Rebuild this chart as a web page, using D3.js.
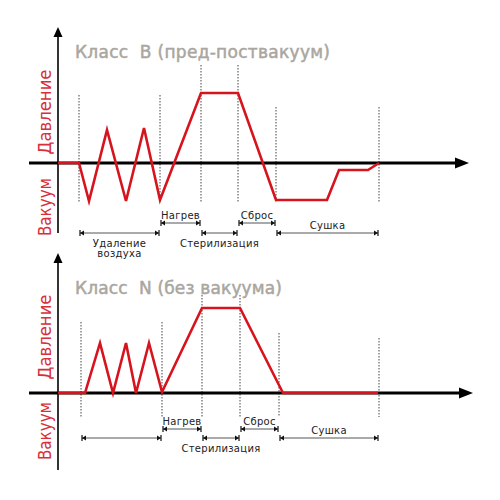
<!DOCTYPE html>
<html>
<head>
<meta charset="utf-8">
<script src="https://cdn.jsdelivr.net/npm/d3@7"></script>
<style>
  body { margin: 0; background: #fff; }
  svg { display: block; }
</style>
</head>
<body>
<div id="chart"></div>
<script>
// --- класс B
var titleB = "Класс  B (пред-поствакуум)";
var timeB = [0, 21, 31, 49, 68, 86, 102, 143, 180, 218, 269, 281, 310, 321];
var pressureB = [0, 0, -38, 33, -38, 35, -37, 70, 70, -37, -37, -7, -7, 0];
var stepsB = [21, 102, 143, 180, 218, 321];
var stepTopB = [68, 68, 98, 98, 56, 56];
var phaseLabelsB = ["Удаление|воздуха", "Нагрев", "Стерилизация", "Сброс", "Сушка"];

// --- класс N
var titleN = "Класс  N (без вакуума)";
var timeN = [0, 27, 42, 55, 68, 78, 91, 104, 144, 182, 225, 320];
var pressureN = [0, 0, 50, 0, 50, 0, 50, 1, 85, 85, 0, 0];
var stepsN = [23, 104, 144, 182, 221, 321];
var stepTopN = [71, 71, 98, 98, 60, 55];
var phaseLabelsN = ["", "Нагрев", "Стерилизация", "Сброс", "Сушка"];

var axisLabels = ["Давление", "Вакуум"];

var width = 500, height = 500;
var red = "#d7141e";

var svg = d3.select('#chart').append('svg')
  .attr('width', width)
  .attr('height', height);

var x = d3.scaleLinear().domain([0, 410]).range([58, 468]);

function drawPanel(p) {
  var y = d3.scaleLinear().domain([-50, 100]).range([p.axisY + 50, p.axisY - 100]);
  var g = svg.append('g');

  // dotted step lines
  g.selectAll('line.step')
    .data(p.steps).enter()
    .append('line')
    .attr('class', 'step')
    .attr('x1', function(d) { return x(d); })
    .attr('x2', function(d) { return x(d); })
    .attr('y1', function(d, i) { return y(p.stepTop[i]); })
    .attr('y2', y(p.stepBottom))
    .attr('stroke', '#444')
    .attr('stroke-width', 1)
    .attr('stroke-dasharray', '1.5,1.5');

  // x axis
  g.append('line')
    .attr('x1', 29).attr('x2', p.xEnd - 12)
    .attr('y1', p.axisY).attr('y2', p.axisY)
    .attr('stroke', '#000').attr('stroke-width', 3);
  g.append('path')
    .attr('d', 'M' + p.xEnd + ',' + p.axisY + ' L' + (p.xEnd - 14) + ',' + (p.axisY - 5.5) +
               ' L' + (p.xEnd - 14) + ',' + (p.axisY + 5.5) + 'Z')
    .attr('fill', '#000');

  // y axis
  g.append('line')
    .attr('x1', 58).attr('x2', 58)
    .attr('y1', p.yTop + 8).attr('y2', p.yBottom)
    .attr('stroke', '#000').attr('stroke-width', 1.6);
  g.append('path')
    .attr('d', 'M58,' + p.yTop + ' L53.5,' + (p.yTop + 10) + ' L62.5,' + (p.yTop + 10) + 'Z')
    .attr('fill', '#000');

  // pressure curve
  var line = d3.line()
    .x(function(d) { return x(d[0]); })
    .y(function(d) { return y(d[1]); });
  g.append('path')
    .datum(d3.zip(p.time, p.pressure))
    .attr('d', line)
    .attr('fill', 'none')
    .attr('stroke', red)
    .attr('stroke-width', 2.6)
    .attr('stroke-linejoin', 'miter');

  // title
  g.append('text')
    .attr('x', 75).attr('y', p.titleY)
    .attr('font-family', 'DejaVu Sans')
    .attr('font-size', 17)
    .attr('fill', '#aaa6a0')
    .attr('stroke', '#aaa6a0')
    .attr('stroke-width', 0.5)
    .attr('textLength', p.titleLen)
    .attr('lengthAdjust', 'spacing')
    .style('white-space', 'pre')
    .text(p.title);

  // vertical axis labels
  [[axisLabels[0], p.presY, 85], [axisLabels[1], p.vacY, 58]].forEach(function(a) {
    g.append('text')
      .attr('transform', 'translate(45,' + a[1] + ') rotate(-90)')
      .attr('text-anchor', 'middle')
      .attr('dy', '0.35em')
      .attr('font-family', 'DejaVu Sans')
      .attr('font-size', 18)
      .attr('fill', '#d8303a')
      .attr('textLength', a[2])
      .attr('lengthAdjust', 'spacingAndGlyphs')
      .text(a[0]);
  });

  // phase spans
  var rows = [2, 1, 2, 1, 2];
  var below = [true, false, true, false, false];
  p.labels.forEach(function(lab, i) {
    var x0 = x(p.steps[i]) + 1, x1 = x(p.steps[i + 1]) - 1;
    var by = rows[i] === 1 ? p.axisY + p.row1 : p.axisY + p.row2;
    var bar = g.append('g');
    bar.append('line')
      .attr('x1', x0).attr('x2', x1).attr('y1', by).attr('y2', by)
      .attr('stroke', '#555').attr('stroke-width', 1);
    [[x0, 1], [x1, -1]].forEach(function(e) {
      bar.append('line')
        .attr('x1', e[0]).attr('x2', e[0]).attr('y1', by - 3).attr('y2', by + 3)
        .attr('stroke', '#111').attr('stroke-width', 1.2);
      bar.append('path')
        .attr('d', 'M' + e[0] + ',' + by + ' L' + (e[0] + 4 * e[1]) + ',' + (by - 2.5) +
                   ' L' + (e[0] + 4 * e[1]) + ',' + (by + 2.5) + 'Z')
        .attr('fill', '#111');
    });
    if (!lab) return;
    var parts = lab.split('|');
    var cx = (x0 + x1) / 2;
    parts.forEach(function(t, k) {
      g.append('text')
        .attr('x', cx)
        .attr('y', below[i] ? by + 14 + k * 10 : by - 4)
        .attr('text-anchor', 'middle')
        .attr('font-family', 'DejaVu Sans')
        .attr('font-size', 10)
        .attr('letter-spacing', 0.3)
        .attr('fill', '#222')
        .text(t);
    });
  });
}

drawPanel({
  title: titleB, time: timeB, pressure: pressureB, steps: stepsB, stepTop: stepTopB,
  labels: phaseLabelsB, axisY: 163, stepBottom: -40, xEnd: 469, yTop: 27, yBottom: 233,
  titleY: 58, titleLen: 255, presY: 112, vacY: 207, row1: 60, row2: 70
});

drawPanel({
  title: titleN, time: timeN, pressure: pressureN, steps: stepsN, stepTop: stepTopN,
  labels: phaseLabelsN, axisY: 393, stepBottom: -24, xEnd: 473, yTop: 253, yBottom: 470,
  titleY: 294, titleLen: 207, presY: 337, vacY: 431, row1: 36, row2: 45
});
</script>
</body>
</html>
